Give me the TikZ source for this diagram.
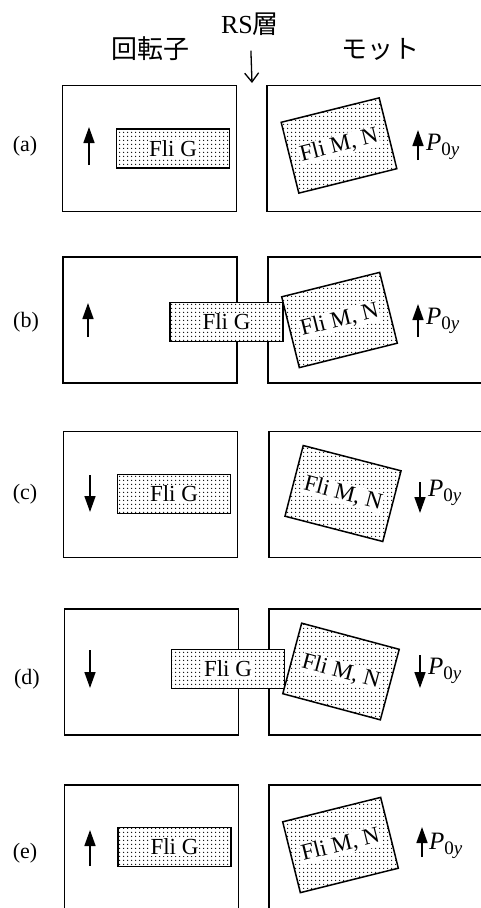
\documentclass[tikz,border=0pt]{standalone}
\usepackage{fontspec}
\setmainfont{Liberation Serif}
\newfontfamily\jpfont{Noto Sans CJK JP}
\usetikzlibrary{arrows.meta,patterns.meta}
\setlength{\fboxsep}{0.8pt}
\newcommand{\ptext}[1]{\colorbox{white}{#1}}
\newcommand{\pzero}{\textit{P}\raisebox{-4.5pt}{\fontsize{19}{19}\selectfont 0\textit{y}}}

\begin{document}
\begin{tikzpicture}[
  x=1pt, y=-1pt,
  font=\fontsize{22}{26}\selectfont,
  panel/.style={draw, line width=1.4pt, minimum height=126pt, inner sep=0pt},
  rotor/.style={panel, minimum width=174pt},
  motor/.style={panel, minimum width=240pt},
  protein/.style={draw, line width=1.5pt, inner sep=0pt, preaction={fill=white},
    pattern={Dots[distance=4pt, radius=0.8pt]}},
  flig/.style={protein, minimum width=113pt, minimum height=39pt, font=\fontsize{23}{26}\selectfont},
  flimn/.style={protein, minimum width=101pt, minimum height=73pt, font=\fontsize{23}{26}\selectfont},
  spin/.style={line width=1.6pt, -{Triangle[length=16pt, width=11pt]}},
  rsarrow/.style={line width=1.3pt, -{Straight Barb[length=9pt, width=14pt]}},
  head/.style={font=\fontsize{26}{30}\selectfont, inner sep=1pt},
  tag/.style={inner sep=0pt},
  pol/.style={anchor=west, inner sep=0pt, font=\fontsize{25}{28}\selectfont}
]
\useasboundingbox (0,0) rectangle (481,908);
\clip (0,0) rectangle (481,908);

% headings
\node[head] (rs) at (250,24) {RS{\jpfont 層}};
\node[head] (rot) at (150,49) {\jpfont 回転子};
\node[head] (mot) at (380,49) {\jpfont モット};
\coordinate (rsend) at (252,83);
\draw[rsarrow, shorten <=14pt] (rs) -- (rsend);

% (a)
\node[tag] (la) at (25,146) {(a)};
\node[rotor] (ra) at (149.5,148.5) {};
\node[motor] (ma) at (387,148.5) {};
\node[flig] (ga) at (173,148.5) {\ptext{Fli G}};
\node[flimn, rotate=14] (na) at (339,145.5) {\ptext{Fli M, N}};
\draw[spin] (89,165) -- (89,127);
\draw[spin] (418,160) -- (418,130);
\node[pol] (pa) at (426,147) {\pzero};

% (b)
\node[tag] (lb) at (26,322) {(b)};
\node[rotor] (rb) at (150,320) {};
\node[motor] (mb) at (388,320) {};
\node[flig] (gb) at (226.5,322) {\ptext{Fli G}};
\node[flimn, rotate=14] (nb) at (339.5,320) {\ptext{Fli M, N}};
\draw[spin] (88,337) -- (88,303);
\draw[spin] (418,337) -- (418,304);
\node[pol] (pb) at (426,321) {\pzero};

% (c)
\node[tag] (lc) at (25,494) {(c)};
\node[rotor] (rc) at (150.5,494.5) {};
\node[motor] (mc) at (389,494.5) {};
\node[flig] (gc) at (174,494) {\ptext{Fli G}};
\node[flimn, rotate=-14.5] (nc) at (343,493.5) {\ptext{Fli M, N}};
\draw[spin] (90,475) -- (90,512);
\draw[spin] (420,482) -- (420,513);
\node[pol] (pc) at (428,493) {\pzero};

% (d)
\node[tag] (ld) at (27,679) {(d)};
\node[rotor] (rd) at (151.5,672) {};
\node[motor] (md) at (389,672) {};
\node[flig] (gd) at (228,669) {\ptext{Fli G}};
\node[flimn, rotate=-15] (nd) at (341,671.5) {\ptext{Fli M, N}};
\draw[spin] (90,650) -- (90,688);
\draw[spin] (420,655) -- (420,688);
\node[pol] (pd) at (428,671) {\pzero};

% (e)
\node[tag] (le) at (25,853) {(e)};
\node[rotor] (re) at (151.5,848) {};
\node[motor] (me) at (389,848) {};
\node[flig] (ge) at (174.5,847) {\ptext{Fli G}};
\node[flimn, rotate=14] (ne) at (340.5,845) {\ptext{Fli M, N}};
\draw[spin] (90,866) -- (90,830);
\draw[spin] (422,857) -- (422,827);
\node[pol] (pe) at (429,846) {\pzero};
\end{tikzpicture}
\end{document}
